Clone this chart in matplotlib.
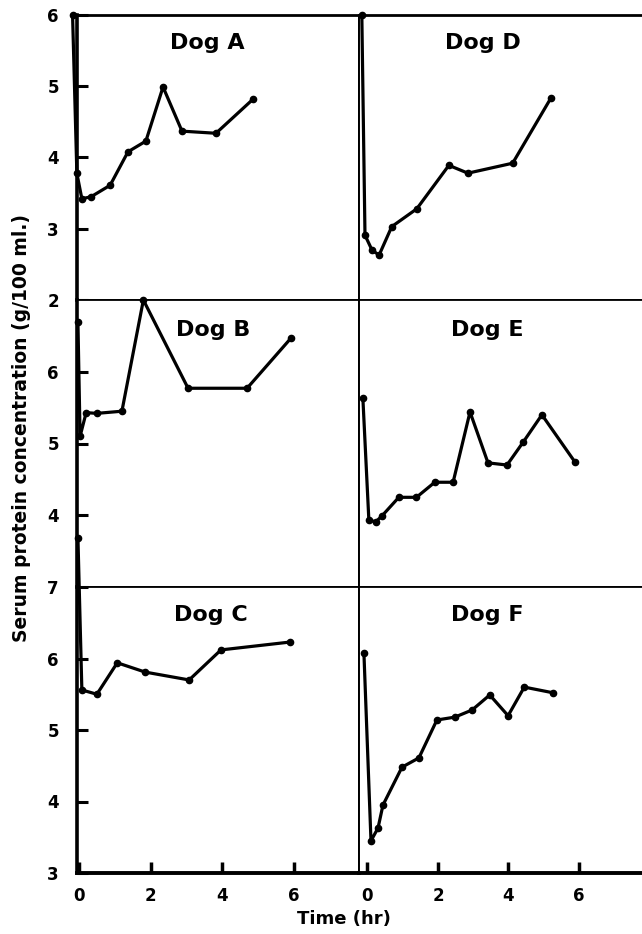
import matplotlib
matplotlib.use("Agg")
import matplotlib.pyplot as plt

W, H = 642, 934
DPI = 100

# ---- data (time in hr, serum protein g/100 ml) ----
dogA_t = [-0.18, -0.06, 0.08, 0.34, 0.87, 1.37, 1.87, 2.35, 2.88, 3.83, 4.87]
dogA_v = [6.0, 3.78, 3.42, 3.45, 3.61, 4.08, 4.23, 4.99, 4.37, 4.34, 4.82]
dogB_t = [-0.03, 0.03, 0.2, 0.5, 1.2, 1.8, 3.05, 4.7, 5.93]
dogB_v = [6.69, 5.1, 5.43, 5.42, 5.45, 7.0, 5.77, 5.77, 6.47]
dogC_t = [-0.03, 0.08, 0.5, 1.07, 1.85, 3.08, 3.97, 5.9]
dogC_v = [7.69, 5.56, 5.50, 5.94, 5.81, 5.70, 6.12, 6.23]
dogD_t = [-0.16, -0.07, 0.13, 0.33, 0.69, 1.40, 2.31, 2.85, 4.12, 5.2]
dogD_v = [6.0, 2.91, 2.70, 2.63, 3.03, 3.28, 3.89, 3.78, 3.92, 4.83]
dogE_t = [-0.13, 0.04, 0.24, 0.41, 0.89, 1.39, 1.91, 2.43, 2.91, 3.42, 3.96, 4.42, 4.95, 5.89]
dogE_v = [5.63, 3.93, 3.91, 3.99, 4.25, 4.25, 4.46, 4.46, 5.44, 4.73, 4.70, 5.02, 5.40, 4.74]
dogF_t = [-0.1, 0.1, 0.3, 0.44, 0.98, 1.46, 1.97, 2.48, 2.97, 3.47, 3.99, 4.45, 5.27]
dogF_v = [6.07, 3.45, 3.63, 3.95, 4.48, 4.61, 5.14, 5.18, 5.28, 5.49, 5.20, 5.60, 5.52]

titles = ["Dog A", "Dog B", "Dog C", "Dog D", "Dog E", "Dog F"]
ylims = [(2, 6), (3, 7), (3, 7)]
ytick_labels = [[2, 3, 4, 5, 6], [4, 5, 6], [3, 4, 5, 6, 7]]
xtick_vals = [0, 2, 4, 6]

plt.rcParams['font.family'] = ['DejaVu Sans']

fig = plt.figure(figsize=(W / DPI, H / DPI), dpi=DPI)


def px_rect(x0, y0, x1, y1):
    return [x0 / W, 1 - y1 / H, (x1 - x0) / W, (y1 - y0) / H]


rows = [(15, 300), (300, 587), (587, 873)]
cols = [(77, 359, (-0.056, 7.83)), (359, 642, (-0.24, 7.79))]
data = [[(dogA_t, dogA_v), (dogB_t, dogB_v), (dogC_t, dogC_v)],
        [(dogD_t, dogD_v), (dogE_t, dogE_v), (dogF_t, dogF_v)]]
title_pos = [[(207, 43), (213, 330), (211, 615)],
             [(483, 43), (487, 330), (487, 615)]]

for ci, (x0, x1, xl) in enumerate(cols):
    for ri, (y0, y1) in enumerate(rows):
        ax = fig.add_axes(px_rect(x0, y0, x1, y1))
        ax.set_xlim(*xl)
        ax.set_ylim(*ylims[ri])
        t, v = data[ci][ri]
        ax.plot(t, v, color='black', lw=2.3, marker='o', ms=4.5,
                clip_on=False, solid_joinstyle='round', zorder=5)
        for s in ax.spines.values():
            s.set_color('black')
        ax.spines['top'].set_linewidth(2.0 if ri == 0 else 1.3)
        ax.spines['bottom'].set_linewidth(2.8 if ri == 2 else 1.3)
        if ci == 0:
            ax.spines['left'].set_linewidth(2.6)
            ax.spines['right'].set_linewidth(1.4)
            ax.set_yticks(ytick_labels[ri])
            ax.set_yticklabels([str(k) for k in ytick_labels[ri]],
                               fontsize=12, fontweight='bold')
            ax.tick_params(axis='y', direction='in', length=8, width=2.2,
                           pad=13)
        else:
            ax.spines['left'].set_linewidth(1.4)
            ax.spines['right'].set_visible(False)
            ax.set_yticks([])
        if ri == 2:
            ax.set_xticks(xtick_vals)
            ax.set_xticklabels([str(k) for k in xtick_vals],
                               fontsize=12, fontweight='bold')
            ax.tick_params(axis='x', direction='in', length=8, width=2.5,
                           pad=10)
        else:
            ax.set_xticks([])
        tx, ty = title_pos[ci][ri]
        fig.text(tx / W, 1 - ty / H, titles[ci * 3 + ri], ha='center',
                 va='center', fontsize=16, fontweight='bold')

fig.text(22 / W, 1 - 428 / H, "Serum protein concentration (g/100 ml.)",
         rotation=90, ha='center', va='center', fontsize=13.5,
         fontweight='bold')
fig.text(344 / W, 1 - 919 / H, "Time (hr)", ha='center', va='center',
         fontsize=13, fontweight='bold')

fig.savefig("out.png", dpi=DPI)
